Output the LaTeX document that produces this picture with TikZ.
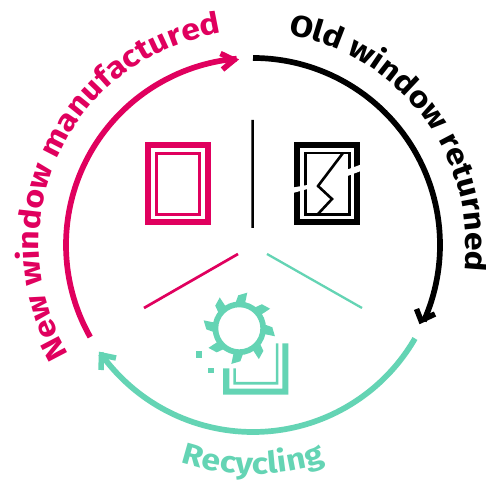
\documentclass[tikz,border=0pt]{standalone}
\usepackage{fontspec}
\newfontfamily\lab{Fira Sans}[FakeStretch=1.13]
\usetikzlibrary{decorations.text}
\definecolor{pinkc}{HTML}{E0005E}
\definecolor{mintc}{HTML}{64D4B4}
\tikzset{
  loop arc/.style={line width=5.7bp,line cap=butt},
  chevron/.style={line width=5.5bp,line join=miter,miter limit=10},
  labeltext/.style={decorate,decoration={text along path,text align=center,text={#1}}},
}
\newcommand{\lf}{\lab\bfseries\fontsize{30}{30}\selectfont}
\begin{document}
\begin{tikzpicture}[x=1bp,y=1bp]
\useasboundingbox (0,0) rectangle (486,484);
\fill[white] (0,0) rectangle (486,484);
\coordinate (c) at (253,239);
% loop arcs
\draw[loop arc,black] (c) ++(90:187) arc[start angle=90,end angle=-24,radius=187];
\draw[loop arc,mintc] (c) ++(-30:187) arc[start angle=-30,end angle=-144.5,radius=187];
\draw[loop arc,pinkc] (c) ++(209.5:187) arc[start angle=209.5,end angle=95,radius=187];
% curved labels
\path[labeltext={|\lf\color{pinkc}|New window manufactured}] (c) ++(224.5:214) arc[start angle=224.5,end angle=84.5,radius=214];
\path[labeltext={|\lf\color{black}|Old window returned}] (c) ++(106.75:213) arc[start angle=106.75,end angle=-33.25,radius=213];
\path[labeltext={|\lf\color{mintc}|Recycling}] (c) ++(235:229) arc[start angle=235,end angle=305,radius=229];
\begin{scope}[shift={(0,484)},y=-1bp]
% arrow heads
\draw[chevron,black] (416.5,309) -- (421,320.5) -- (435,314);
\draw[chevron,mintc] (116,358) -- (101.5,355) -- (101,370);
\draw[chevron,pinkc] (220.5,53.5) -- (234,60) -- (222.5,69.5);
% dividers
\draw[line width=2.5bp,black] (252.7,120) -- (252.5,228);
\draw[line width=2.7bp,pinkc] (144,308) -- (238,254);
\draw[line width=2.3bp,mintc] (267,254) -- (362,308);
% new window
\draw[pinkc,line width=6bp] (148,145) rectangle (207.7,222.3);
\draw[pinkc,line width=3bp] (156.5,153.2) rectangle (199.5,214.5);
% old window
\draw[black,line width=6bp] (297.3,145) rectangle (357,222.3);
\draw[black,line width=2.6bp] (305.3,153.2) rectangle (349.5,214.8);
\draw[black,line width=2.6bp,line join=miter] (343,153) -- (318,186) -- (332,199) -- (318,214);
\fill[white] (293,187.5) -- (316,183.5) -- (316.5,186.5) -- (293,193) -- cycle;
\fill[white] (347.5,169.5) -- (361,164.5) -- (361,171) -- (347.5,176) -- cycle;
% gear
\begin{scope}[shift={(239.3,328.3)}]
\foreach \k in {0,45,...,315}{
  \fill[mintc] ({\k-9}:25.3) -- ({\k-1.8}:33) -- ({\k+12.6}:36.5) -- ({\k+13}:24.7) -- cycle;
}
\draw[mintc,line width=5.7bp] (0,0) circle (23.9);
\end{scope}
% tray
\fill[mintc] (223,368.3) -- (229.3,368.3) -- (229.3,388.6) -- (282.3,388.6) -- (282.3,343.3) -- (288.3,343.3) -- (288.3,394.7) -- (223,394.7) -- cycle;
\fill[mintc] (233.3,368.3) -- (235.8,368.3) -- (235.8,381.8) -- (275.8,381.8) -- (275.8,343.3) -- (278.3,343.3) -- (278.3,384.6) -- (233.3,384.6) -- cycle;
\fill[mintc] (195.7,351.4) rectangle (201.7,358);
\fill[mintc] (208.3,367.7) rectangle (214.3,373.2);
\end{scope}
\end{tikzpicture}
\end{document}
